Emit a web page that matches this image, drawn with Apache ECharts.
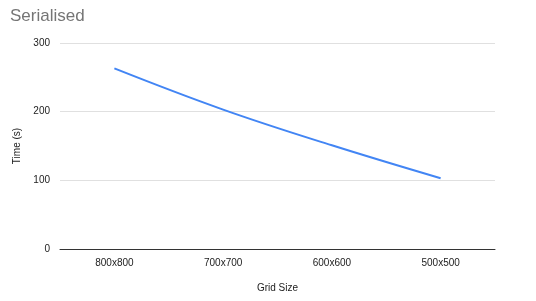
<!DOCTYPE html>
<html><head><meta charset="utf-8">
<script src="https://cdn.jsdelivr.net/npm/echarts@6/dist/echarts.min.js"></script>
<style>html,body{margin:0;padding:0;background:#fff}#c{width:536px;height:301px}</style>
</head><body><div id="c"></div>
<script>
const categories = ['800x800', '700x700', '600x600', '500x500'];
const timeValues = [263, 203, 151, 103];
const yTicks = [0, 100, 200, 300];

const chart = echarts.init(document.getElementById('c'), null, {renderer: 'canvas'});
chart.setOption({
  animation: false,
  title: {
    text: 'Serialised', left: 5, top: 3,
    textStyle: {fontFamily: 'Liberation Sans, Arial, sans-serif', fontSize: 17, fontWeight: 'normal', color: '#757575'}
  },
  grid: {left: 60, right: 41, top: 43, bottom: 52, containLabel: false},
  xAxis: {
    type: 'category', data: categories, boundaryGap: true,
    name: 'Grid Size', nameLocation: 'middle', nameGap: 34,
    nameTextStyle: {fontFamily: 'Liberation Sans, Arial, sans-serif', fontSize: 10, color: '#222'},
    axisLine: {lineStyle: {color: '#333', width: 1}},
    axisTick: {show: false},
    axisLabel: {fontFamily: 'Liberation Sans, Arial, sans-serif', fontSize: 10, color: '#222', margin: 9}
  },
  yAxis: {
    type: 'value', min: yTicks[0], max: yTicks[yTicks.length - 1], interval: 100,
    name: 'Time (s)', nameLocation: 'middle', nameGap: 36, nameRotate: 90,
    nameTextStyle: {fontFamily: 'Liberation Sans, Arial, sans-serif', fontSize: 10, color: '#222'},
    axisLine: {show: false}, axisTick: {show: false},
    axisLabel: {fontFamily: 'Liberation Sans, Arial, sans-serif', fontSize: 10, color: '#222', margin: 10},
    splitLine: {lineStyle: {color: '#e0e0e0', width: 1}}
  },
  series: [{
    type: 'line', data: timeValues, symbol: 'none', smooth: 0.4,
    lineStyle: {color: '#4285f4', width: 2}
  }]
});
</script></body></html>
